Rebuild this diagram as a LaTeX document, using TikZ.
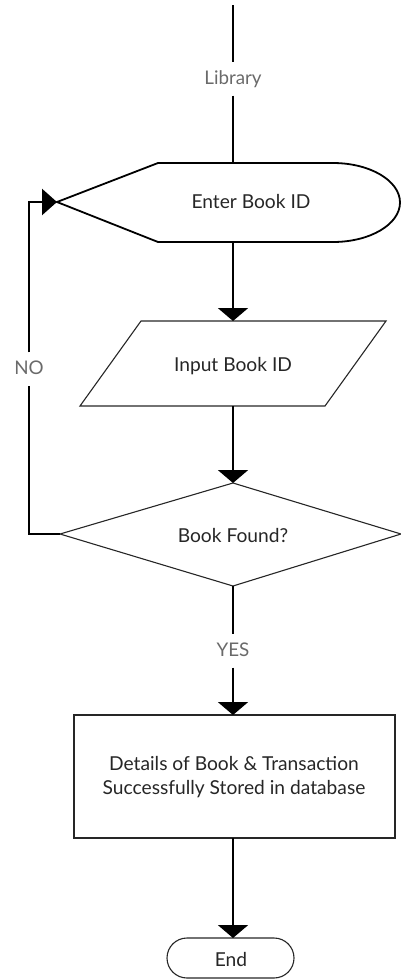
\documentclass[tikz,border=0pt]{standalone}
\usepackage{fontspec}
\setmainfont{Lato}
\usetikzlibrary{arrows.meta}
\definecolor{ink}{HTML}{262626}
\definecolor{labelgrey}{HTML}{6A6A6A}
\begin{document}
\begin{tikzpicture}[x=1pt,y=-1pt,
  link/.style={line width=2.4pt, draw=black},
  flow/.style={link, -{Triangle[width=30pt,length=13pt]}},
  backflow/.style={link, -{Triangle[width=26pt,length=15pt]}},
  outline/.style={draw=ink, line width=1.1pt},
  heavyoutline/.style={draw=black, line width=1.8pt},
  caption/.style={font=\fontsize{19.2}{24}\selectfont, text=ink, align=center},
  tag/.style={font=\fontsize{18.8}{22}\selectfont, text=labelgrey, inner xsep=2pt,
    inner ysep=7.5pt, text height=14pt, text depth=4pt}]
\useasboundingbox (0,0) rectangle (401,980);

% --- start: "Enter Book ID" display shape
\draw[heavyoutline] (57,202) -- (158,163) -- (333,163)
  .. controls (370,163) and (400,180.7) .. (400,202.5)
  .. controls (400,224.3) and (370,242) .. (333,242)
  -- (158,242) -- cycle;
\node[caption] (enter) at (251,202) {Enter Book ID};
\coordinate (entertop) at (233,163);
\coordinate (enterbot) at (233,242);
\coordinate (entertip) at (57,202);

% --- incoming line labelled Library
\coordinate (libtop) at (233,5);
\node[tag] (library) at (233,79) {Library};
\draw[link] (libtop) -- (library) -- (entertop);

% --- input parallelogram
\draw[outline] (141,321) -- (386,321) -- (325,406) -- (80,406) -- cycle;
\node[caption] (input) at (233,366) {Input Book ID};
\coordinate (intop) at (233,321);
\coordinate (inbot) at (233,406);

% --- decision diamond
\draw[outline] (233,483) -- (401,534) -- (233,586) -- (60,534) -- cycle;
\node[caption] (found) at (233,535) {Book Found?};
\coordinate (dtop) at (233,483);
\coordinate (dbot) at (233,586);
\coordinate (dleft) at (60,534);

% --- storage process box
\draw[outline] (74,715) rectangle (395,838);
\node[caption] (store) at (234,777) {Details of Book \& Transaction\\Successfully Stored in database};
\coordinate (boxtop) at (233,715);
\coordinate (boxbot) at (233,838);

% --- terminator
\draw[outline, rounded corners=20pt] (167,938) rectangle (294,978);
\node[caption] (finish) at (231,959) {End};
\coordinate (endtop) at (233,938);

% --- connectors
\draw[flow] (enterbot) -- (intop);
\draw[flow] (inbot) -- (dtop);

\node[tag] (yes) at (233,651) {YES};
\draw[link] (dbot) -- (yes);
\draw[flow] (yes) -- (boxtop);
\draw[flow] (boxbot) -- (endtop);

\node[tag] (no) at (29,369) {NO};
\coordinate (loopbot) at (29,534);
\coordinate (looptop) at (29,202);
\draw[link, line join=miter] (dleft) -- (loopbot) -- (no);
\draw[backflow, line join=miter] (no) -- (looptop) -- (entertip);
\end{tikzpicture}
\end{document}
